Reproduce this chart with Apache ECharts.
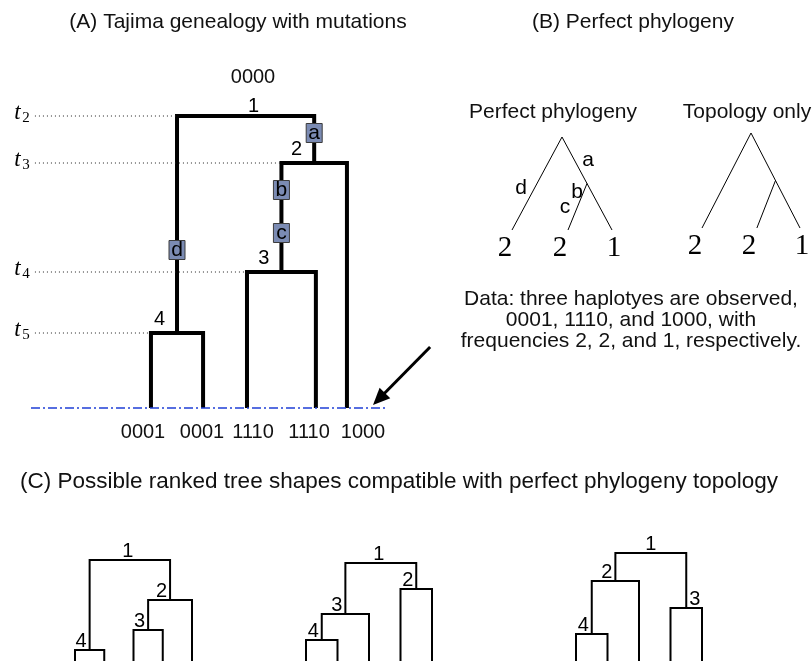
<!DOCTYPE html>
<html>
<head>
<meta charset="utf-8">
<script src="https://cdn.jsdelivr.net/npm/echarts@6/dist/echarts.min.js"></script>
<style>html,body{margin:0;padding:0;background:#fff}#c{width:812px;height:664px}</style>
</head>
<body>
<div id="c"></div>
<script>
// ---------------- Panel A: Tajima genealogy with mutations ----------------
const leafLabelsA = ['0001', '0001', '1110', '1110', '1000'];
const leafXA = [3.36, 4.82, 6.05, 7.98, 8.85];          // leaf positions (axis units)
const rankTimesA = [2.92, 2.45, 1.36, 0.75];            // coalescence times t2..t5 (ranks 1..4)
const timeSubscriptsA = ['2', '3', '4', '5'];
const leftChildA = ['n4', 'n3', 'L2', 'L0'];
const rightChildA = ['n2', 'L4', 'L3', 'L1'];
const mutationNames = ['a', 'b', 'c', 'd'];
const mutationBranch = ['n2', 'n3', 'n3', 'n4'];
const mutationTimes = [2.75, 2.18, 1.75, 1.58];
const rootHaplotype = '0000';

// ---------------- Panel B: perfect phylogeny ----------------
const ppFrequencies = ['2', '2', '1'];
const ppLeafX = [0, 1.12, 2];
const ppRoot = [1, 1];
const ppInner = [1.5, 0.5];
const ppMutLabels = ['a', 'd', 'b', 'c'];
const ppMutX = [1.52, 0.18, 1.30, 1.06];
const ppMutY = [0.75, 0.45, 0.41, 0.24];
const dataNote = ['Data: three haplotyes are observed,', '0001, 1110, and 1000, with', 'frequencies 2, 2, and 1, respectively.'];

// ---------------- Panel C: ranked tree shapes ----------------
const leafXC = [0, 1, 2, 3, 4];
const rankTimesC1 = [10.1, 6.1, 3.1, 1.1];
const leftChildC1 = ['n4', 'n3', 'L2', 'L0'];
const rightChildC1 = ['n2', 'L4', 'L3', 'L1'];
const rankTimesC2 = [9.8, 7.2, 4.7, 2.1];
const leftChildC2 = ['n3', 'L3', 'n4', 'L0'];
const rightChildC2 = ['n2', 'L4', 'L2', 'L1'];
const rankTimesC3 = [10.8, 8.0, 5.3, 2.7];
const leftChildC3 = ['n2', 'n4', 'L3', 'L0'];
const rightChildC3 = ['n3', 'L2', 'L4', 'L1'];

// ---------------- helpers ----------------
const SANS = '"Liberation Sans", Arial, Helvetica, sans-serif';
const SERIF = '"Liberation Serif", "Times New Roman", serif';

function layoutTree(leafX, times, left, right) {
  const pos = {};
  leafX.forEach((x, i) => { pos['L' + i] = { x: x, t: 0 }; });
  function get(ref) {
    if (pos[ref]) return pos[ref];
    const k = +ref.slice(1) - 1;
    const l = get(left[k]), r = get(right[k]);
    pos[ref] = { x: (l.x + r.x) / 2, t: times[k] };
    return pos[ref];
  }
  for (let k = 1; k <= times.length; k++) get('n' + k);
  return pos;
}
function brackets(pos, times, left, right) {
  return times.map((t, k) => {
    const l = pos[left[k]], r = pos[right[k]];
    return [l.x, l.t, r.x, r.t, t];
  });
}
function bracketSeries(g, data, width) {
  return {
    type: 'custom', xAxisIndex: g, yAxisIndex: g, clip: false, silent: true, data: data,
    renderItem: (p, api) => {
      const a = api.coord([api.value(0), api.value(1)]);
      const b = api.coord([api.value(0), api.value(4)]);
      const c = api.coord([api.value(2), api.value(4)]);
      const d = api.coord([api.value(2), api.value(3)]);
      return { type: 'polyline', shape: { points: [a, b, c, d] },
        style: { stroke: '#000', lineWidth: width, fill: null, lineJoin: 'miter', lineCap: 'butt' } };
    }
  };
}
function rankLabelSeries(g, pos, times, opt) {
  const data = times.map((t, k) => [pos['n' + (k + 1)].x, t]);
  return {
    type: 'custom', xAxisIndex: g, yAxisIndex: g, clip: false, silent: true, data: data,
    renderItem: (p, api) => {
      const k = p.dataIndex;
      const c = api.coord([api.value(0), api.value(1)]);
      let x, align, y;
      if (k === 0) { x = c[0] + opt.rootDx; align = 'center'; y = c[1] - opt.rootLift; }
      else if (opt.rightSide && opt.rightSide.indexOf(k) >= 0) { x = c[0] + opt.gap; align = 'left'; y = c[1] - opt.lift; }
      else { x = c[0] - opt.gap; align = 'right'; y = c[1] - opt.lift; }
      return { type: 'text', x: x, y: y,
        style: { text: String(k + 1), fontSize: opt.size, fontFamily: SANS, fill: '#000', align: align, verticalAlign: 'middle' } };
    }
  };
}
function segSeries(g, data, style) {
  return {
    type: 'custom', xAxisIndex: g, yAxisIndex: g, clip: false, silent: true, data: data,
    renderItem: (p, api) => {
      const a = api.coord([api.value(0), api.value(1)]);
      const b = api.coord([api.value(2), api.value(3)]);
      return { type: 'line', shape: { x1: a[0], y1: a[1], x2: b[0], y2: b[1] }, style: Object.assign({ stroke: '#000', lineWidth: 1 }, style) };
    }
  };
}

// ---------------- layouts ----------------
const posA = layoutTree(leafXA, rankTimesA, leftChildA, rightChildA);
const posC1 = layoutTree(leafXC, rankTimesC1, leftChildC1, rightChildC1);
const posC2 = layoutTree(leafXC, rankTimesC2, leftChildC2, rightChildC2);
const posC3 = layoutTree(leafXC, rankTimesC3, leftChildC3, rightChildC3);

const ppSegs = [
  [ppRoot[0], ppRoot[1], ppLeafX[0], 0],
  [ppRoot[0], ppRoot[1], ppLeafX[2], 0],
  [ppInner[0], ppInner[1], ppLeafX[1], 0]
];

const grids = [
  { left: 31, top: 116, width: 357, height: 292 },   // A
  { left: 512, top: 137, width: 100, height: 93 },   // B perfect phylogeny
  { left: 702, top: 133, width: 98, height: 95 },    // B topology only
  { left: 75, top: 551, width: 117, height: 110 },   // C1
  { left: 306, top: 551, width: 126, height: 110 },  // C2
  { left: 576, top: 551, width: 126, height: 110 }   // C3
];
const xr = [[0, 10], [0, 2], [0, 2], [0, 4], [0, 4], [0, 4]];
const yr = [[0, 2.92], [0, 1], [0, 1], [0, 11], [0, 11], [0, 11]];

const series = [];
// A: tree
series.push(bracketSeries(0, brackets(posA, rankTimesA, leftChildA, rightChildA), 4));
// A: sampling baseline
series.push(segSeries(0, [[0, 0, 10, 0]], { stroke: '#1f3fd6', lineWidth: 1.6, lineDash: [9, 3, 2, 3] }));
// A: dotted time lines + labels
series.push({
  type: 'custom', xAxisIndex: 0, yAxisIndex: 0, clip: false, silent: true,
  data: rankTimesA.map((t, k) => [posA[leftChildA[k]].x, t]),
  renderItem: (p, api) => {
    const a = api.coord([0.11, api.value(1)]);
    const b = api.coord([api.value(0), api.value(1)]);
    return { type: 'group', children: [
      { type: 'line', shape: { x1: a[0], y1: a[1], x2: b[0], y2: b[1] }, style: { stroke: '#222', lineWidth: 1, lineDash: [1, 3] } },
      { type: 'text', x: 17.5, y: a[1] - 3, style: { text: 't', fontSize: 23, fontStyle: 'italic', fontFamily: SERIF, fill: '#000', align: 'center', verticalAlign: 'middle' } },
      { type: 'text', x: 26, y: a[1] + 2, style: { text: timeSubscriptsA[p.dataIndex], fontSize: 15, fontFamily: SERIF, fill: '#000', align: 'center', verticalAlign: 'middle' } }
    ] };
  }
});
// A: mutations
series.push({
  type: 'custom', xAxisIndex: 0, yAxisIndex: 0, clip: false, silent: true,
  data: mutationTimes.map((t, i) => [posA[mutationBranch[i]].x, t]),
  renderItem: (p, api) => {
    const c = api.coord([api.value(0), api.value(1)]);
    return { type: 'group', children: [
      { type: 'rect', shape: { x: c[0] - 8, y: c[1] - 9.5, width: 16, height: 19 }, style: { fill: '#7b8bb3', stroke: '#3c3c3c', lineWidth: 1 } },
      { type: 'text', x: c[0], y: c[1], style: { text: mutationNames[p.dataIndex], fontSize: 21, fontFamily: SANS, fill: '#000', align: 'center', verticalAlign: 'middle' } }
    ] };
  }
});
// A: rank labels
series.push(rankLabelSeries(0, posA, rankTimesA, { gap: 12, lift: 14, rootLift: 10, rootDx: 8, size: 20 }));
// A: arrow
series.push({
  type: 'custom', xAxisIndex: 0, yAxisIndex: 0, clip: false, silent: true,
  data: [[11.18, 0.61, 9.58, 0.03]],
  renderItem: (p, api) => {
    const a = api.coord([api.value(0), api.value(1)]);
    const b = api.coord([api.value(2), api.value(3)]);
    const dx = b[0] - a[0], dy = b[1] - a[1], L = Math.sqrt(dx * dx + dy * dy);
    const ux = dx / L, uy = dy / L, hl = 17, hw = 7.5;
    const bx = b[0] - ux * hl, by = b[1] - uy * hl;
    return { type: 'group', children: [
      { type: 'line', shape: { x1: a[0], y1: a[1], x2: bx + ux * 2, y2: by + uy * 2 }, style: { stroke: '#000', lineWidth: 3 } },
      { type: 'polygon', shape: { points: [[b[0], b[1]], [bx - uy * hw, by + ux * hw], [bx + uy * hw, by - ux * hw]] }, style: { fill: '#000' } }
    ] };
  }
});

// B trees
[1, 2].forEach(g => {
  series.push(segSeries(g, ppSegs, { lineWidth: 1 }));
  series.push({
    type: 'custom', xAxisIndex: g, yAxisIndex: g, clip: false, silent: true,
    data: ppLeafX.map(x => [x, 0]),
    renderItem: (p, api) => {
      const c = api.coord([api.value(0), api.value(1)]);
      const dxs = [-7, -8, 2];
      return { type: 'text', x: c[0] + dxs[p.dataIndex], y: c[1] + 18,
        style: { text: ppFrequencies[p.dataIndex], fontSize: 29, fontFamily: SERIF, fill: '#000', align: 'center', verticalAlign: 'middle' } };
    }
  });
});
series.push({
  type: 'custom', xAxisIndex: 1, yAxisIndex: 1, clip: false, silent: true,
  data: ppMutX.map((x, i) => [x, ppMutY[i]]),
  renderItem: (p, api) => {
    const c = api.coord([api.value(0), api.value(1)]);
    return { type: 'text', x: c[0], y: c[1],
      style: { text: ppMutLabels[p.dataIndex], fontSize: 21, fontFamily: SANS, fill: '#000', align: 'center', verticalAlign: 'middle' } };
  }
});

// C trees
const optC = { gap: 3, lift: 9, rootLift: 9, rootDx: -2, size: 20 };
series.push(bracketSeries(3, brackets(posC1, rankTimesC1, leftChildC1, rightChildC1), 2));
series.push(rankLabelSeries(3, posC1, rankTimesC1, optC));
series.push(bracketSeries(4, brackets(posC2, rankTimesC2, leftChildC2, rightChildC2), 2));
series.push(rankLabelSeries(4, posC2, rankTimesC2, optC));
series.push(bracketSeries(5, brackets(posC3, rankTimesC3, leftChildC3, rightChildC3), 2));
series.push(rankLabelSeries(5, posC3, rankTimesC3, Object.assign({}, optC, { rightSide: [2], rootDx: 0 })));

// Text
function txt(x, y, text, size, extra) {
  return Object.assign({ type: 'text', x: x, y: y, silent: true,
    style: Object.assign({ text: text, fontSize: size, fontFamily: SANS, fill: '#111', align: 'center', verticalAlign: 'middle' }, extra || {}) });
}
const leafLabelX = [143, 202, 253, 309, 363];
const graphic = [
  txt(238, 22, '(A) Tajima genealogy with mutations', 21),
  txt(633, 22, '(B) Perfect phylogeny', 21),
  txt(253, 77, rootHaplotype, 20),
  txt(553, 112, 'Perfect phylogeny', 21),
  txt(747, 112, 'Topology only', 21),
  txt(631, 320, dataNote.join('\n'), 21, { lineHeight: 21 }),
  txt(399, 482, '(C) Possible ranked tree shapes compatible with perfect phylogeny topology', 22.5)
].concat(leafLabelsA.map((s, i) => txt(leafLabelX[i], 432, s, 20)));

const chart = echarts.init(document.getElementById('c'), null, { renderer: 'canvas', width: 812, height: 664 });
chart.setOption({
  animation: false,
  backgroundColor: '#fff',
  grid: grids.map(g => Object.assign({ containLabel: false, show: false }, g)),
  xAxis: grids.map((g, i) => ({ type: 'value', gridIndex: i, min: xr[i][0], max: xr[i][1], show: false })),
  yAxis: grids.map((g, i) => ({ type: 'value', gridIndex: i, min: yr[i][0], max: yr[i][1], show: false })),
  series: series,
  graphic: graphic
});
</script>
</body>
</html>
